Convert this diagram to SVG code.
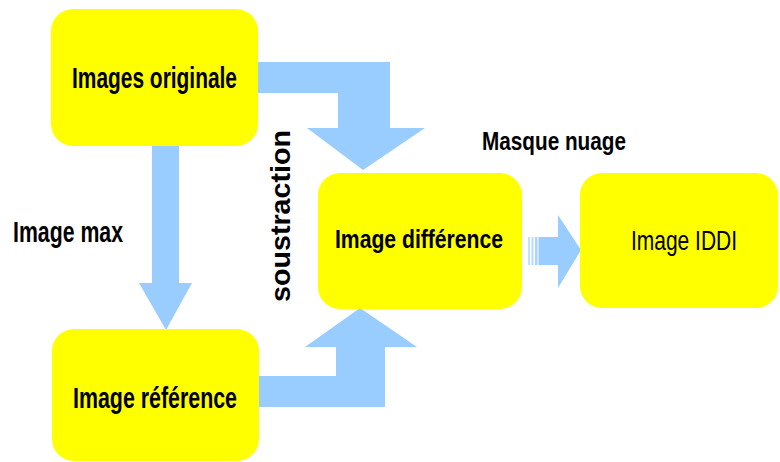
<svg xmlns="http://www.w3.org/2000/svg" width="780" height="462" viewBox="0 0 780 462">
<style>
.box{fill:#FFFF00;}
.arr{fill:#99CCFF;}
.lbl{font-family:"Liberation Sans",Arial,sans-serif;font-weight:bold;fill:#000;}
.reg{font-family:"Liberation Sans",Arial,sans-serif;font-weight:normal;fill:#000;}
</style>
<rect width="780" height="462" fill="#fff"/>
<g id="connectors">
<polygon class="arr" points="256,62 390,62 390,128 425,128 363,170 307,128 338,128 338,93 256,93"/>
<polygon class="arr" points="256,376 336,376 336,347 305,347 360,308 417,347 385,347 385,407 256,407"/>
<polygon class="arr" points="152,144 179,144 179,283 192,283 166,330 139,283 152,283"/>
<g id="arrow-diff-iddi">
<rect class="arr" x="528" y="237" width="2" height="28" opacity="0.6"/>
<rect class="arr" x="531.5" y="237" width="2" height="28" opacity="0.7"/>
<rect class="arr" x="535" y="237" width="2.5" height="28" opacity="0.85"/>
<rect class="arr" x="538.5" y="237" width="20" height="28"/>
<polygon class="arr" points="558,215 581,250 558,288"/>
</g>
</g>
<g id="node-originale">
<rect class="box" x="51" y="9" width="207" height="137" rx="22"/>
<text class="lbl" x="72" y="88" font-size="29" textLength="165" lengthAdjust="spacingAndGlyphs">Images originale</text>
</g>
<g id="node-reference">
<rect class="box" x="52" y="329" width="207" height="132" rx="22"/>
<text class="lbl" x="73" y="408" font-size="29" textLength="164" lengthAdjust="spacingAndGlyphs">Image référence</text>
</g>
<g id="node-difference">
<rect class="box" x="318" y="173" width="204" height="136" rx="22"/>
<text class="lbl" x="335" y="248" font-size="26" textLength="168" lengthAdjust="spacingAndGlyphs">Image différence</text>
</g>
<g id="node-iddi">
<rect class="box" x="580" y="173" width="198" height="135" rx="22"/>
<text class="reg" x="631" y="250" font-size="28" textLength="106" lengthAdjust="spacingAndGlyphs">Image IDDI</text>
</g>
<g id="labels">
<text class="lbl" x="13" y="242" font-size="29" textLength="110" lengthAdjust="spacingAndGlyphs">Image max</text>
<text class="lbl" x="482" y="150" font-size="25" textLength="144" lengthAdjust="spacingAndGlyphs">Masque nuage</text>
<text class="lbl" transform="translate(290,302) rotate(-90)" x="0" y="0" font-size="28" textLength="172" lengthAdjust="spacingAndGlyphs">soustraction</text>
</g>
</svg>
